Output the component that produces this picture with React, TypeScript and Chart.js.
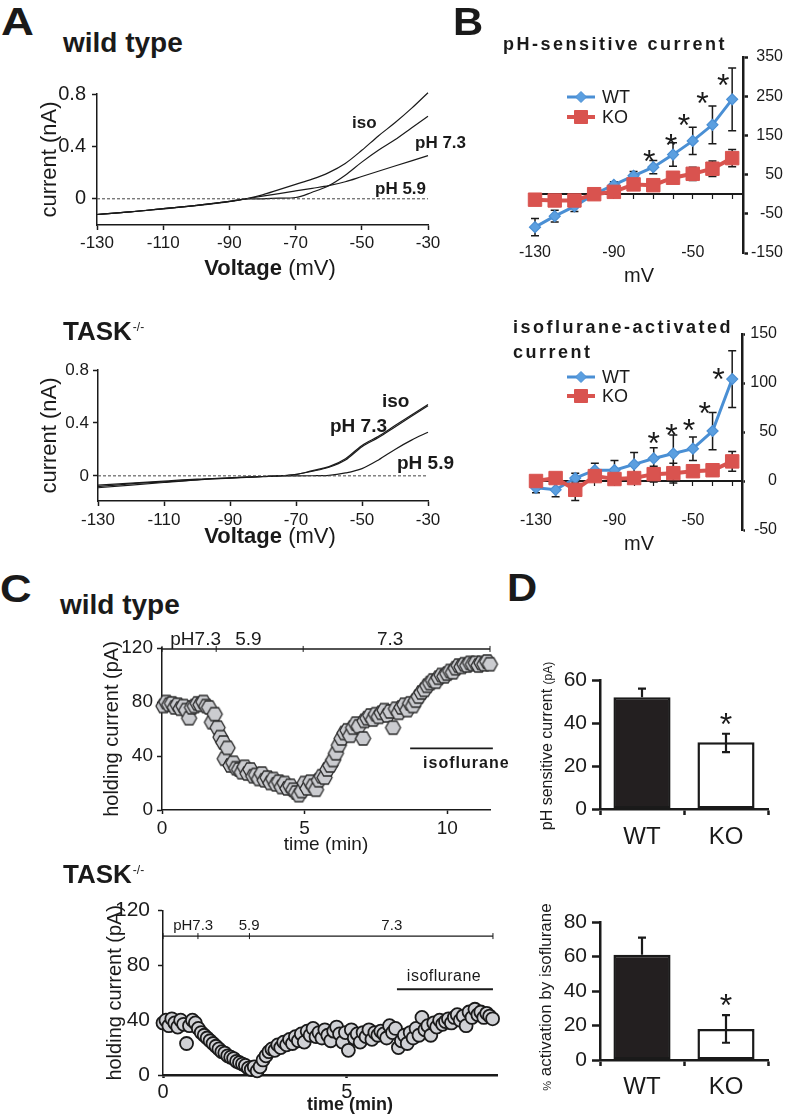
import React, { useEffect, useRef } from "react";
import { Chart, registerables } from "chart.js";

Chart.register(...registerables);

const FONT = "'Liberation Sans', Arial, Helvetica, sans-serif";
const INK = "#1a1a1a";
const BLUE = "#4a8fd4";
const BLUE_FILL = "#5b9fe0";
const RED = "#d9534f";

Chart.defaults.font.family = FONT;
Chart.defaults.color = INK;

// ---------- Panel A: I-V traces (wild type) ----------
const ivVoltsWT = [-130, -120, -110, -100, -90, -85, -80, -75, -70, -65, -60, -55, -50, -45, -40, -35, -30];
const ivWTiso = [-0.12, -0.1, -0.075, -0.05, -0.02, 0, 0.03, 0.07, 0.11, 0.15, 0.2, 0.27, 0.37, 0.48, 0.58, 0.69, 0.81];
const ivWTph73 = [-0.12, -0.1, -0.077, -0.052, -0.022, 0, 0.0, 0.005, 0.01, 0.05, 0.1, 0.18, 0.28, 0.37, 0.45, 0.54, 0.63];
const ivWTph59 = [-0.12, -0.1, -0.075, -0.05, -0.02, 0, 0.02, 0.04, 0.06, 0.08, 0.1, 0.13, 0.17, 0.21, 0.25, 0.29, 0.33];
// ---------- Panel A: I-V traces (TASK-/-) ----------
const ivVoltsKO = [-130, -120, -110, -100, -90, -80, -75, -70, -65, -60, -55, -50, -45, -40, -35, -30];
const ivKOiso = [-0.07, -0.055, -0.04, -0.025, -0.015, -0.005, 0, 0.01, 0.04, 0.07, 0.13, 0.23, 0.3, 0.38, 0.46, 0.54];
const ivKOph73 = [-0.09, -0.07, -0.05, -0.03, -0.018, -0.006, 0, 0.012, 0.035, 0.065, 0.12, 0.22, 0.29, 0.37, 0.45, 0.53];
const ivKOph59 = [-0.08, -0.06, -0.045, -0.03, -0.015, -0.005, 0, 0, 0.001, 0.004, 0.022, 0.055, 0.12, 0.2, 0.27, 0.33];
const zeroLineV = [-130, -30];
const zeroLineI = [0, 0];
const ivTicksX = [-130, -110, -90, -70, -50, -30];
const ivTicksY = [0, 0.4, 0.8];

// ---------- Panel B ----------
const mvSteps = [-130, -120, -110, -100, -90, -80, -70, -60, -50, -40, -30];
const phWT = [-84, -56, -31, 0, 24, 47, 69, 101, 136, 177, 242];
const phWTerr = [22, 15, 13, 0, 8, 11, 17, 30, 35, 48, 80];
const phKO = [-14, -16, -16, 0, 6, 25, 23, 42, 52, 65, 92];
const phKOerr = [5, 8, 6, 0, 5, 6, 5, 8, 17, 20, 22];
const phStarMv = [-72, -61, -54.5, -45, -34.5];
const phStarVal = [103, 144, 195, 253, 299];
const phTicksY = [-150, -50, 50, 150, 250, 350];

const isoWT = [-7, -9, 3, 11, 11, 17, 23, 28, 33, 51, 104];
const isoWTerr = [5, 7, 5, 7, 10, 12, 11, 19, 12, 19, 29];
const isoKO = [0, 3, -9, 5, 2, 3, 7, 8, 10, 11, 20];
const isoKOerr = [2, 3, 11, 4, 4, 3, 8, 10, 4, 6, 10];
const isoStarMv = [-70, -61, -52, -44, -37];
const isoStarVal = [46, 55, 60, 77, 112];
const isoTicksY = [-50, 0, 50, 100, 150];
const mvLabelTicks = [-130, -90, -50];

// ---------- Panel C ----------
const wtTime = [0.05, 0.15, 0.25, 0.35, 0.45, 0.55, 0.65, 0.75, 0.85, 0.95, 1.05, 1.15, 1.25, 1.35, 1.45, 1.55, 1.65, 1.75, 1.85, 1.95, 2.05, 2.15, 2.2, 2.3, 2.4, 2.5, 2.6, 2.7, 2.8, 2.9, 3.0, 3.1, 3.2, 3.3, 3.4, 3.5, 3.6, 3.7, 3.8, 3.9, 4.0, 4.1, 4.2, 4.3, 4.4, 4.5, 4.6, 4.7, 4.8, 4.9, 5.0, 5.1, 5.2, 5.3, 5.4, 5.5, 5.6, 5.7, 5.8, 5.9, 6.0, 6.1, 6.2, 6.3, 6.4, 6.5, 6.6, 6.7, 6.8, 6.9, 7.05, 7.1, 7.2, 7.3, 7.4, 7.5, 7.6, 7.7, 7.8, 7.9, 8.0, 8.1, 8.2, 8.3, 8.4, 8.5, 8.6, 8.7, 8.8, 8.9, 9.0, 9.1, 9.2, 9.3, 9.4, 9.5, 9.6, 9.7, 9.8, 9.9, 10.0, 10.1, 10.2, 10.3, 10.4, 10.5, 10.6, 10.7, 10.8, 10.9, 11.0, 11.1, 11.2, 11.3, 11.4, 11.5, 11.6, 11.7];
const wtCurrent = [77, 80, 78, 79, 76, 78, 75, 77, 74, 68, 76, 77, 79, 78, 80, 77, 76, 65, 71, 61, 54, 50, 38, 46, 33, 35, 31, 30, 28, 32, 27, 30, 25, 26, 23, 27, 22, 24, 20, 23, 19, 21, 17, 20, 16, 18, 15, 13, 11, 14, 20, 16, 21, 18, 15, 22, 25, 24, 30, 33, 37, 42, 48, 53, 57, 59, 55, 61, 64, 62, 53, 66, 68, 70, 67, 71, 69, 72, 74, 70, 73, 61, 75, 72, 76, 78, 74, 79, 77, 81, 84, 87, 89, 92, 94, 96, 95, 98, 100, 99, 101, 103, 102, 105, 107, 106, 108, 107, 109, 108, 109, 107, 109, 108, 110, 108, 107, 106];
const koTime = [0.0, 0.08, 0.16, 0.24, 0.32, 0.4, 0.48, 0.56, 0.64, 0.72, 0.8, 0.88, 0.96, 1.04, 1.12, 1.2, 1.28, 1.36, 1.44, 1.52, 1.6, 1.68, 1.76, 1.84, 1.92, 2.0, 2.08, 2.16, 2.24, 2.32, 2.4, 2.48, 2.56, 2.64, 2.72, 2.8, 2.88, 2.96, 3.04, 3.12, 3.2, 3.28, 3.36, 3.44, 3.52, 3.6, 3.68, 3.76, 3.84, 3.92, 4.0, 4.08, 4.16, 4.24, 4.32, 4.4, 4.48, 4.56, 4.64, 4.72, 4.8, 4.88, 4.96, 5.04, 5.12, 5.2, 5.28, 5.36, 5.44, 5.52, 5.6, 5.68, 5.76, 5.84, 5.92, 6.0, 6.08, 6.16, 6.24, 6.32, 6.4, 6.48, 6.56, 6.64, 6.72, 6.8, 6.88, 6.96, 7.04, 7.12, 7.2, 7.28, 7.36, 7.44, 7.52, 7.6, 7.68, 7.76, 7.84, 7.92, 8.0, 8.08, 8.16, 8.24, 8.32, 8.4, 8.48, 8.56, 8.64, 8.72, 8.8, 8.88, 8.96];
const koCurrent = [38, 40, 36, 41, 38, 35, 40, 37, 23, 36, 40, 38, 34, 31, 29, 27, 25, 23, 21, 19, 17, 16, 14, 13, 12, 10, 9, 8, 7, 5, 4, 6, 3, 6, 11, 14, 17, 19, 18, 22, 20, 24, 22, 26, 23, 28, 25, 30, 24, 32, 29, 34, 28, 31, 27, 33, 29, 25, 32, 35, 30, 24, 31, 18, 33, 27, 30, 24, 31, 28, 33, 26, 31, 29, 32, 30, 27, 36, 31, 34, 20, 25, 29, 23, 31, 27, 34, 29, 42, 33, 36, 29, 38, 35, 40, 37, 39, 41, 38, 42, 44, 40, 43, 36, 46, 42, 48, 44, 46, 42, 45, 43, 41];
const holdTicksY = [0, 40, 80, 120];
const wtPhSwitch = [0, 1.9, 4.95, 11.5];
const wtPhLabels = ["pH7.3", "5.9", "7.3"];
const wtPhLabelT = [1.18, 3.03, 8.0];
const wtIsoSpan = [8.7, 11.6];
const koPhSwitch = [0, 0.95, 2.35, 8.97];
const koPhLabels = ["pH7.3", "5.9", "7.3"];
const koPhLabelT = [0.82, 2.34, 6.22];
const koIsoSpan = [6.36, 8.97];

// ---------- Panel D ----------
const dGroups = ["WT", "KO"];
const dPhValues = [52, 31];
const dPhErrUp = [4, 4];
const dPhErrDown = [0, 4.5];
const dIsoValues = [61, 18];
const dIsoErrUp = [10, 8];
const dIsoErrDown = [0, 8];
const dPhStarVal = [43];
const dIsoStarVal = [36];

// ---------- helpers ----------
const pts = (xs: number[], ys: number[]) => xs.map((x, i) => ({ x, y: ys[i] }));

function axis(o: any) {
  const a: any = {
    type: o.type || "linear",
    position: o.position,
    grid: {
      display: o.grid !== false,
      drawOnChartArea: false,
      drawTicks: true,
      tickLength: o.tl ?? 5,
      tickWidth: o.tw ?? o.bw ?? 1.5,
      tickColor: INK,
      color: INK,
    },
    border: { display: o.border !== false, color: INK, width: o.bw ?? 1.5 },
    ticks: {
      display: o.labels !== false,
      font: { size: o.fs ?? 16 },
      color: INK,
      padding: o.pad ?? 3,
      autoSkip: false,
      maxRotation: 0,
      minRotation: 0,
    },
    title: { display: false },
    afterFit: (s: any) => {
      if (o.w != null) s.width = o.w;
      if (o.h != null) s.height = o.h;
    },
  };
  if (o.min != null) a.min = o.min;
  if (o.max != null) a.max = o.max;
  if (o.ticks) a.afterBuildTicks = (s: any) => { s.ticks = o.ticks.map((v: number) => ({ value: v })); };
  if (o.crossAlign) a.ticks.crossAlign = o.crossAlign;
  if (o.offset != null) { a.offset = o.offset; a.grid.offset = o.offset; }
  if (o.title) {
    a.title = {
      display: true, text: o.title, color: INK,
      font: { size: o.titleSize ?? 18, weight: o.titleWeight ?? "normal" },
      padding: { top: o.titlePadTop ?? 4, bottom: o.titlePadBottom ?? 4 },
    };
  }
  return a;
}

function drawErr(chart: any, layer: string) {
  const ctx = chart.ctx;
  const ys = chart.scales.y;
  chart.data.datasets.forEach((ds: any, di: number) => {
    if (!ds.errUp || (ds.errLayer || "after") !== layer) return;
    const meta = chart.getDatasetMeta(di);
    ctx.save();
    ctx.strokeStyle = INK;
    ctx.lineWidth = ds.errWidth || 1.5;
    const cap = (ds.errCap || 8) / 2;
    meta.data.forEach((el: any, i: number) => {
      const raw = ds.data[i];
      const v = typeof raw === "number" ? raw : raw.y;
      const up = ds.errUp[i] || 0;
      const dn = ds.errDown ? ds.errDown[i] || 0 : up;
      if (!up && !dn) return;
      const x = el.x;
      const yU = ys.getPixelForValue(v + up);
      const yD = ys.getPixelForValue(v - dn);
      ctx.beginPath();
      ctx.moveTo(x, yU);
      ctx.lineTo(x, yD);
      if (up) { ctx.moveTo(x - cap, yU); ctx.lineTo(x + cap, yU); }
      if (dn) { ctx.moveTo(x - cap, yD); ctx.lineTo(x + cap, yD); }
      ctx.stroke();
    });
    ctx.restore();
  });
}

function extras(cfg: any) {
  return {
    id: "extras",
    beforeDatasetsDraw(chart: any) { drawErr(chart, "before"); },
    afterDatasetsDraw(chart: any) {
      drawErr(chart, "after");
      const ctx = chart.ctx;
      const xs = chart.scales.x;
      const ys = chart.scales.y;
      ctx.save();
      (cfg.bars || []).forEach((b: any) => {
        const y = ys.getPixelForValue(b.y);
        ctx.strokeStyle = INK;
        ctx.lineWidth = b.lw || 1.5;
        ctx.beginPath();
        ctx.moveTo(xs.getPixelForValue(b.x0), y);
        ctx.lineTo(xs.getPixelForValue(b.x1), y);
        ctx.stroke();
        ctx.lineWidth = 1;
        (b.marks || []).forEach((t: number) => {
          const x = xs.getPixelForValue(t);
          ctx.beginPath();
          ctx.moveTo(x, y - 3);
          ctx.lineTo(x, y + 3);
          ctx.stroke();
        });
      });
      (cfg.texts || []).forEach((t: any) => {
        ctx.font = t.font;
        ctx.fillStyle = INK;
        ctx.textAlign = "center";
        ctx.textBaseline = "alphabetic";
        (ctx as any).letterSpacing = t.ls || "0px";
        ctx.fillText(t.text, xs.getPixelForValue(t.x), ys.getPixelForValue(t.y));
        (ctx as any).letterSpacing = "0px";
      });
      if (cfg.stars) {
        const s = cfg.stars;
        ctx.font = `${s.size}px ${FONT}`;
        ctx.fillStyle = INK;
        ctx.textAlign = "center";
        ctx.textBaseline = "alphabetic";
        s.x.forEach((xv: number, i: number) => {
          ctx.fillText("*", xs.getPixelForValue(xv), ys.getPixelForValue(s.y[i]) + 0.58 * s.size);
        });
      }
      (cfg.legend || []).forEach((L: any) => {
        ctx.strokeStyle = L.color;
        ctx.lineWidth = L.lw;
        ctx.beginPath();
        ctx.moveTo(L.x, L.y);
        ctx.lineTo(L.x + 28, L.y);
        ctx.stroke();
        const cx = L.x + 14;
        ctx.fillStyle = L.fill;
        ctx.strokeStyle = L.color;
        ctx.lineWidth = 1;
        ctx.beginPath();
        if (L.style === "diamond") {
          ctx.moveTo(cx, L.y - 5.5); ctx.lineTo(cx + 5.5, L.y); ctx.lineTo(cx, L.y + 5.5); ctx.lineTo(cx - 5.5, L.y); ctx.closePath();
        } else {
          ctx.rect(cx - 6.5, L.y - 6.5, 13, 13);
        }
        ctx.fill();
        ctx.stroke();
        ctx.font = `18px ${FONT}`;
        ctx.fillStyle = INK;
        ctx.textAlign = "left";
        ctx.textBaseline = "middle";
        ctx.fillText(L.text, L.x + 35, L.y + 1);
      });
      ctx.restore();
    },
  };
}

const baseOpts = (padding: any) => ({
  responsive: false,
  animation: false,
  events: [],
  layout: { padding },
  plugins: { legend: { display: false }, tooltip: { enabled: false } },
});

const traceDs = (xs: number[], ys: number[]) => ({
  data: pts(xs, ys), borderColor: INK, borderWidth: 1.2, pointRadius: 0, fill: false,
  cubicInterpolationMode: "monotone", clip: false,
});
const zeroDs = () => ({
  data: pts(zeroLineV, zeroLineI), borderColor: "#444", borderWidth: 1, borderDash: [3, 2],
  pointRadius: 0, fill: false, clip: false,
});

function hexImage(r: number) {
  const s = Math.ceil(2 * r + 4);
  const c = document.createElement("canvas");
  c.width = s; c.height = s;
  const g = c.getContext("2d")!;
  g.beginPath();
  for (let k = 0; k < 6; k++) {
    const a = (Math.PI / 3) * k;
    const px = s / 2 + r * Math.cos(a);
    const py = s / 2 + r * Math.sin(a);
    if (k) g.lineTo(px, py); else g.moveTo(px, py);
  }
  g.closePath();
  g.fillStyle = "#cbccd0";
  g.fill();
  g.lineWidth = 1.3;
  g.strokeStyle = "#2a2a2a";
  g.stroke();
  return c;
}

// ---------- chart configs ----------
const makeA1 = () => ({
  type: "line",
  data: { datasets: [zeroDs(), traceDs(ivVoltsWT, ivWTiso), traceDs(ivVoltsWT, ivWTph73), traceDs(ivVoltsWT, ivWTph59)] },
  options: {
    ...baseOpts({ left: 33, right: 52, top: 34, bottom: 0 }),
    scales: {
      x: axis({ min: -130, max: -30, position: "bottom", ticks: ivTicksX, h: 65, tl: 5, pad: 3, fs: 17 }),
      y: axis({ min: -0.2, max: 0.8, position: "left", ticks: ivTicksY, w: 64, tl: 5, pad: 6, fs: 20, title: "current (nA)", titleSize: 22 }),
    },
  },
});

const makeA2 = () => ({
  type: "line",
  data: { datasets: [zeroDs(), traceDs(ivVoltsKO, ivKOiso), traceDs(ivVoltsKO, ivKOph73), traceDs(ivVoltsKO, ivKOph59)] },
  options: {
    ...baseOpts({ left: 33, right: 52, top: 30, bottom: 0 }),
    scales: {
      x: axis({ min: -130, max: -30, position: "bottom", ticks: ivTicksX, h: 59, tl: 5, pad: 4, fs: 17 }),
      y: axis({ min: -0.19, max: 0.8, position: "left", ticks: ivTicksY, w: 65, tl: 5, pad: 4, fs: 17, title: "current (nA)", titleSize: 22 }),
    },
  },
});

function makeB(p: any) {
  return () => ({
    type: "line",
    data: {
      datasets: [
        {
          data: pts(mvSteps, p.ko), borderColor: RED, backgroundColor: RED, pointBorderColor: RED,
          borderWidth: 4, pointStyle: "rect", pointRadius: 9.5, pointBorderWidth: 1, tension: 0, clip: false,
          errUp: p.koErr, errLayer: "before", errCap: 8, errWidth: 1.5,
        },
        {
          data: pts(mvSteps, p.wt), borderColor: BLUE, backgroundColor: BLUE_FILL, pointBorderColor: BLUE,
          borderWidth: 3, pointStyle: "rectRot", pointRadius: 5.5, pointBorderWidth: 1.2, tension: 0, clip: false,
          errUp: p.wtErr, errLayer: "before", errCap: 8, errWidth: 1.5,
        },
      ],
    },
    options: {
      ...baseOpts(p.padding),
      scales: {
        x: axis({ min: -130, max: p.xmax, position: { y: 0 }, ticks: mvSteps, labels: false, tl: 4, tw: 1.2, bw: 2 }),
        x2: axis({ min: -130, max: p.xmax, position: { y: p.labelAt }, ticks: mvLabelTicks, grid: false, border: false, fs: 16, pad: 0, title: "mV", titleSize: 20, titlePadTop: 2 }),
        y: axis({ min: p.ymin, max: p.ymax, position: "right", ticks: p.yticks, w: p.yw, tl: p.ytl, pad: p.ypad, fs: 16, bw: 2.5, crossAlign: "far" }),
      },
    },
    plugins: [
      extras({
        stars: { x: p.starX, y: p.starY, size: 32 },
        legend: [
          { x: 87, y: p.legY[0], color: BLUE, fill: BLUE_FILL, lw: 3, style: "diamond", text: "WT" },
          { x: 87, y: p.legY[1], color: RED, fill: RED, lw: 4, style: "square", text: "KO" },
        ],
      }),
    ],
  });
}

const makeB1 = makeB({
  wt: phWT, wtErr: phWTerr, ko: phKO, koErr: phKOerr, xmax: -24.5, labelAt: -111.5,
  ymin: -150, ymax: 350, yticks: phTicksY, yw: 40, ytl: 5, ypad: 4,
  padding: { left: 55, right: 4, top: 17, bottom: 37 }, starX: phStarMv, starY: phStarVal, legY: [57, 77],
});
const makeB2 = makeB({
  wt: isoWT, wtErr: isoWTerr, ko: isoKO, koErr: isoKOerr, xmax: -25, labelAt: -26,
  ymin: -50, ymax: 150, yticks: isoTicksY, yw: 35, ytl: 3, ypad: 3,
  padding: { left: 56, right: 10, top: 14, bottom: 20 }, starX: isoStarMv, starY: isoStarVal, legY: [57, 76],
});

const makeC1 = () => ({
  type: "scatter",
  data: {
    datasets: [{ data: pts(wtTime, wtCurrent), pointStyle: hexImage(7.5), pointRadius: 7.5, clip: false }],
  },
  options: {
    ...baseOpts({ left: 36, right: 30, top: 28, bottom: 0 }),
    scales: {
      x: axis({ min: 0, max: 11.5, position: "bottom", ticks: [0, 5, 10], h: 50, tl: 4, pad: 3, fs: 19, title: "time (min)", titleSize: 19 }),
      y: axis({ min: 0, max: 120, position: "left", ticks: holdTicksY, w: 66, tl: 5, pad: 4, fs: 19, title: "holding current (pA)", titleSize: 20 }),
    },
  },
  plugins: [
    extras({
      bars: [
        { y: 119.3, x0: wtPhSwitch[0], x1: wtPhSwitch[3], marks: wtPhSwitch, lw: 1.6 },
        { y: 45.7, x0: wtIsoSpan[0], x1: wtIsoSpan[1], lw: 1.8 },
      ],
      texts: [
        ...wtPhLabels.map((t, i) => ({ text: t, x: wtPhLabelT[i], y: 122.2, font: `19px ${FONT}` })),
        { text: "isoflurane", x: 10.67, y: 31, font: `bold 16px ${FONT}`, ls: "1px" },
      ],
    }),
  ],
});

const makeC2 = () => ({
  type: "scatter",
  data: {
    datasets: [{
      data: pts(koTime, koCurrent), pointStyle: "circle", pointRadius: 6.5,
      backgroundColor: "#d0d1d5", borderColor: "#1a1a1a", borderWidth: 1.8, clip: false,
    }],
  },
  options: {
    ...baseOpts({ left: 39, right: 23, top: 18, bottom: 0 }),
    scales: {
      x: axis({ min: 0, max: 9.08, position: "bottom", ticks: [0, 5], h: 42, tl: 3, pad: 2, fs: 20, bw: 2.5 }),
      y: axis({ min: 0, max: 120, position: "left", ticks: holdTicksY, w: 64, tl: 5, pad: 8, fs: 21, title: "holding current (pA)", titleSize: 20 }),
    },
  },
  plugins: [
    extras({
      bars: [
        { y: 101.4, x0: koPhSwitch[0], x1: koPhSwitch[3], marks: koPhSwitch, lw: 1.4 },
        { y: 62.6, x0: koIsoSpan[0], x1: koIsoSpan[1], lw: 2 },
      ],
      texts: [
        ...koPhLabels.map((t, i) => ({ text: t, x: koPhLabelT[i], y: 105.8, font: `15px ${FONT}` })),
        { text: "isoflurane", x: 7.64, y: 68.3, font: `16px ${FONT}`, ls: "0.5px" },
      ],
    }),
  ],
});

function makeD(p: any) {
  return () => ({
    type: "bar",
    data: {
      labels: dGroups,
      datasets: [{
        data: p.values, backgroundColor: ["#231f20", "#ffffff"], borderColor: INK, borderWidth: 2.5,
        borderSkipped: false, barPercentage: 0.68, categoryPercentage: 1,
        errUp: p.up, errDown: p.down, errLayer: "after", errCap: 8, errWidth: 2.2,
      }],
    },
    options: {
      ...baseOpts({ left: 0, right: 19, top: p.top, bottom: 0 }),
      scales: {
        x: axis({ type: "category", position: "bottom", offset: true, h: p.xh, tl: 6, pad: p.xpad, fs: 24, bw: 2.5 }),
        y: axis({ min: 0, max: p.max, position: "left", ticks: p.ticks, w: 80, tl: 8, pad: 5, fs: 21, bw: 2.5 }),
      },
    },
    plugins: [extras({ stars: { x: [1], y: p.star, size: 32 } })],
  });
}
const makeD1 = makeD({ values: dPhValues, up: dPhErrUp, down: dPhErrDown, max: 60, ticks: [0, 20, 40, 60], top: 40, xh: 51, xpad: 8, star: dPhStarVal });
const makeD2 = makeD({ values: dIsoValues, up: dIsoErrUp, down: dIsoErrDown, max: 80, ticks: [0, 20, 40, 60, 80], top: 32, xh: 57, xpad: 7, star: dIsoStarVal });

// ---------- components ----------
function ChartBox({ left, top, width, height, make }: any) {
  const ref = useRef<HTMLCanvasElement>(null);
  useEffect(() => {
    const chart = new Chart(ref.current as any, make() as any);
    return () => chart.destroy();
  }, []);
  return (
    <canvas ref={ref} width={width} height={height}
      style={{ position: "absolute", left, top, width, height, display: "block" }} />
  );
}

function Txt({ x, y, size, bold, children, center, ls, sx }: any) {
  const tf = [center ? "translateX(-50%)" : "", sx ? `scaleX(${sx})` : ""].join(" ").trim();
  return (
    <div style={{
      position: "absolute", left: x, top: y - 0.8465 * size,
      font: `${bold ? "bold " : ""}${size}px ${FONT}`, lineHeight: `${size}px`,
      whiteSpace: "nowrap", letterSpacing: ls ? `${ls}px` : undefined,
      transform: tf || undefined, transformOrigin: "left top", color: INK,
    }}>{children}</div>
  );
}

function RotTxt({ cx, cy, size, children }: any) {
  return (
    <div style={{
      position: "absolute", left: cx, top: cy, transform: "translate(-50%,-50%) rotate(-90deg)",
      whiteSpace: "nowrap", font: `${size}px ${FONT}`, lineHeight: `${size + 2}px`, color: INK,
    }}>{children}</div>
  );
}

function Task({ x, y }: any) {
  return (
    <Txt x={x} y={y} size={26} bold>
      TASK<span style={{ fontSize: 12, fontWeight: "normal", position: "relative", top: -9, marginLeft: 1 }}>-/-</span>
    </Txt>
  );
}

export default function App() {
  return (
    <div style={{ position: "absolute", left: 0, top: 0, width: 787, height: 1117, background: "#fff", overflow: "hidden", fontFamily: FONT, color: INK }}>
      <ChartBox left={0} top={60} width={480} height={230} make={makeA1} />
      <ChartBox left={0} top={340} width={480} height={220} make={makeA2} />
      <ChartBox left={480} top={40} width={307} height={250} make={makeB1} />
      <ChartBox left={480} top={320} width={307} height={230} make={makeB2} />
      <ChartBox left={60} top={620} width={460} height={240} make={makeC1} />
      <ChartBox left={60} top={890} width={460} height={227} make={makeC2} />
      <ChartBox left={520} top={640} width={267} height={220} make={makeD1} />
      <ChartBox left={520} top={890} width={267} height={227} make={makeD2} />

      <Txt x={1} y={35} size={38} bold sx={1.2}>A</Txt>
      <Txt x={453} y={35} size={38} bold sx={1.1}>B</Txt>
      <Txt x={0} y={602} size={38} bold sx={1.15}>C</Txt>
      <Txt x={507} y={601} size={38} bold sx={1.1}>D</Txt>

      <Txt x={63} y={53} size={28} bold>wild type</Txt>
      <Txt x={352} y={128} size={17} bold>iso</Txt>
      <Txt x={415} y={148} size={17} bold>pH 7.3</Txt>
      <Txt x={375} y={194} size={17} bold>pH 5.9</Txt>
      <Txt x={270} y={276} size={22} center><b>Voltage</b> (mV)</Txt>

      <Task x={63} y={340} />
      <Txt x={382} y={407} size={19} bold>iso</Txt>
      <Txt x={330} y={432} size={19} bold>pH 7.3</Txt>
      <Txt x={397} y={469} size={19} bold>pH 5.9</Txt>
      <Txt x={270} y={544} size={22} center><b>Voltage</b> (mV)</Txt>

      <Txt x={503} y={50} size={18} bold ls={2.5}>pH-sensitive current</Txt>
      <Txt x={513} y={333} size={18} bold ls={2.5}>isoflurane-activated</Txt>
      <Txt x={513} y={358} size={18} bold ls={2.5}>current</Txt>

      <Txt x={60} y={615} size={28} bold>wild type</Txt>
      <Task x={63} y={883} />
      <Txt x={350} y={1110} size={18} bold center>time (min)</Txt>

      <RotTxt cx={547} cy={746} size={16}>pH sensitive current <span style={{ fontSize: 12 }}>(pA)</span></RotTxt>
      <RotTxt cx={546} cy={997} size={17}><span style={{ fontSize: 11 }}>%</span> activation by isoflurane</RotTxt>
    </div>
  );
}
